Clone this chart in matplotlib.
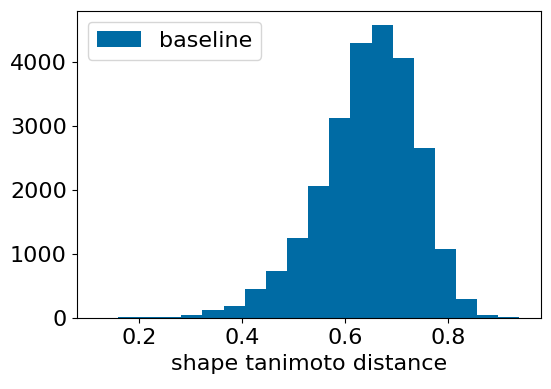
import numpy as np
import matplotlib
matplotlib.use("Agg")
import matplotlib.pyplot as plt

# bin edges of the histogram (19 bins) and counts per bin
BIN_LO = 0.1586
BIN_HI = 0.939
N_BINS = 19
counts = [18, 16, 20, 50, 130, 197, 458, 740, 1248, 2057, 3129,
          4295, 4570, 4062, 2663, 1077, 302, 50, 18]
label = "baseline"
color = "#006BA4"

edges = np.linspace(BIN_LO, BIN_HI, N_BINS + 1)
centers = (edges[:-1] + edges[1:]) / 2

plt.rcParams["font.size"] = 16

fig = plt.figure(figsize=(5.51, 3.89), dpi=100)
ax = fig.add_axes([0.139, 0.1817, 0.843, 0.7908])
ax.hist(centers, bins=edges, weights=counts, color=color, label=label)
ax.set_xlim(0.0783, 0.981)
ax.set_xticks([0.2, 0.4, 0.6, 0.8])
ax.set_yticks([0, 1000, 2000, 3000, 4000])
ax.set_xlabel("shape tanimoto distance")
ax.legend(loc="upper left")

fig.savefig("out.png", dpi=100)
